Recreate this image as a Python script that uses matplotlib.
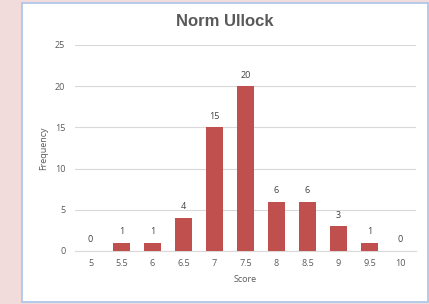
import matplotlib.pyplot as plt
import matplotlib.patches as mpatches
import numpy as np

# dados
categorias = ['5', '5.5', '6', '6.5', '7', '7.5', '8', '8.5', '9', '9.5', '10']
frequencias = [0, 1, 1, 4, 15, 20, 6, 6, 3, 1, 0]

cor_barra = '#C0504D'
cor_texto = '#595959'

plt.rcParams['font.family'] = ['Open Sans', 'DejaVu Sans']

fig = plt.figure(figsize=(4.29, 3.04), dpi=100, facecolor='#F2DCDB')

# painel branco com borda azul clara (atrás dos eixos)
painel = mpatches.Rectangle((22 / 429, 2 / 304), 406 / 429, 299 / 304,
                            transform=fig.transFigure, facecolor='white',
                            edgecolor='#A9C4E8', linewidth=1.2, zorder=-10)
fig.patches.append(painel)

ax = fig.add_axes([75 / 429, 1 - 251 / 304, 341 / 429, 206 / 304])
ax.set_facecolor('none')
ax.set_zorder(5)

x = np.arange(len(categorias))
barras = ax.bar(x, frequencias, width=0.52, color=cor_barra, zorder=3)

for xi, v in zip(x, frequencias):
    ax.text(xi, v + 0.8, str(v), ha='center', va='bottom', fontsize=6.5, color='#404040')

ax.set_xlim(-0.5, len(categorias) - 0.5)
ax.set_ylim(0, 25)
ax.set_yticks(range(0, 26, 5))
ax.set_xticks(x)
ax.set_xticklabels(categorias)
ax.grid(axis='y', color='#D9D9D9', linewidth=0.8, zorder=0)
ax.tick_params(length=0, labelsize=6.5, colors=cor_texto, pad=6)
ax.tick_params(axis='y', pad=7)

for lado in ['top', 'right', 'left']:
    ax.spines[lado].set_visible(False)
ax.spines['bottom'].set_color('#D9D9D9')
ax.spines['bottom'].set_linewidth(0.8)

ax.set_xlabel('Score', fontsize=6.5, color=cor_texto, labelpad=5)
ax.set_ylabel('Frequency', fontsize=6.5, color=cor_texto, labelpad=5)

fig.text(225 / 429, 1 - 22 / 304, 'Norm Ullock', ha='center', va='center',
         fontsize=12, fontweight='bold', color=cor_texto, family='Liberation Sans')

fig.savefig('out.png', dpi=100, facecolor=fig.get_facecolor())
